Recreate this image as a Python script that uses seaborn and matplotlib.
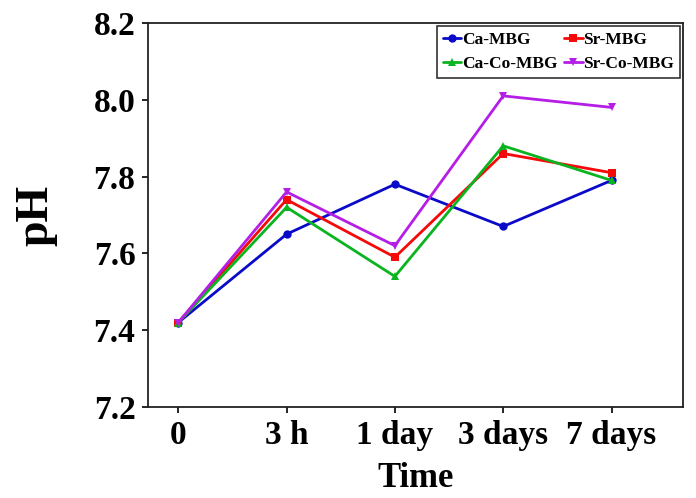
import matplotlib
matplotlib.use("Agg")
import matplotlib.pyplot as plt
import seaborn as sns
import pandas as pd

times = ["0", "3 h", "1 day", "3 days", "7 days"]
ca_mbg = [7.42, 7.65, 7.78, 7.67, 7.79]
sr_mbg = [7.42, 7.74, 7.59, 7.86, 7.81]
ca_co_mbg = [7.42, 7.72, 7.54, 7.88, 7.79]
sr_co_mbg = [7.42, 7.76, 7.62, 8.01, 7.98]
series_names = ["Ca-MBG", "Sr-MBG", "Ca-Co-MBG", "Sr-Co-MBG"]
y_ticks = [7.2, 7.4, 7.6, 7.8, 8.0, 8.2]

rows = []
for name, vals in zip(series_names, [ca_mbg, sr_mbg, ca_co_mbg, sr_co_mbg]):
    for t, v in zip(times, vals):
        rows.append({"Time": t, "pH": v, "sample": name})
df = pd.DataFrame(rows)

sns.set_style("ticks")
plt.rcParams["font.family"] = ["Liberation Serif", "DejaVu Serif"]
plt.rcParams["font.weight"] = "bold"
plt.rcParams["text.color"] = "black"
plt.rcParams["xtick.color"] = "black"
plt.rcParams["ytick.color"] = "black"
plt.rcParams["axes.labelcolor"] = "black"

fig = plt.figure(figsize=(6.96, 4.98), dpi=100)
ax = fig.add_axes([0.2126, 0.1827, 0.9813 - 0.2126, 0.954 - 0.1827])

palette = {"Ca-MBG": "#0a0ac8", "Sr-MBG": "#f50a0a", "Ca-Co-MBG": "#0ab41e", "Sr-Co-MBG": "#b41ee6"}
markers = {"Ca-MBG": "o", "Sr-MBG": "s", "Ca-Co-MBG": "^", "Sr-Co-MBG": "v"}

sns.lineplot(data=df, x="Time", y="pH", hue="sample", style="sample",
             palette=palette, markers=markers, dashes=False, ax=ax,
             linewidth=2, markersize=6, markeredgewidth=0, sort=False)

ax.set_ylim(7.2, 8.2)
ax.set_yticks(y_ticks)
ax.set_yticklabels([f"{v:.1f}" for v in y_ticks])
ax.set_xlim(-0.28, 4.66)
ax.set_xticks(range(len(times)))
ax.set_xticklabels(times)
ax.tick_params(axis="both", labelsize=24, length=4, width=1.2, pad=5)
for lbl in ax.get_xticklabels() + ax.get_yticklabels():
    lbl.set_fontweight("bold")
ax.set_xlabel("Time", fontsize=25, fontweight="bold", labelpad=8)
ax.set_ylabel("pH", fontsize=33, fontweight="bold", labelpad=26)
for s in ax.spines.values():
    s.set_linewidth(1.3)
    s.set_color("#222222")

handles, labels = ax.get_legend_handles_labels()
hmap = dict(zip(labels, handles))
order = ["Ca-MBG", "Ca-Co-MBG", "Sr-MBG", "Sr-Co-MBG"]
leg = ax.legend([hmap[k] for k in order], order, loc="upper right", ncol=2, fontsize=12.5,
                frameon=True, fancybox=False, borderaxespad=0.15, handlelength=1.05,
                handletextpad=0.05, columnspacing=0.4, borderpad=0.35, labelspacing=0.45)
leg.get_frame().set_edgecolor("black")
leg.get_frame().set_linewidth(1.2)
for t in leg.get_texts():
    t.set_fontweight("bold")

fig.savefig("out.png", dpi=100)
